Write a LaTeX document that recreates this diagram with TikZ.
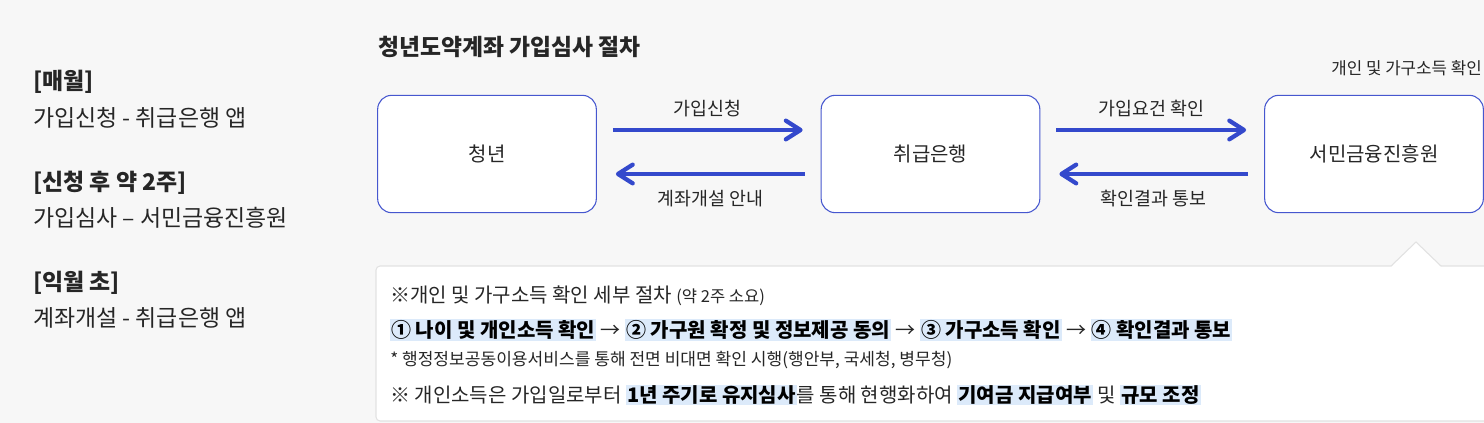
\documentclass[tikz,border=0pt]{standalone}
\usepackage{fontspec}
\setmainfont{Noto Sans CJK KR}
\usetikzlibrary{arrows.meta, positioning, calc}

\definecolor{pageGray}{HTML}{F7F7F7}
\definecolor{flowBlue}{HTML}{3449CC}
\definecolor{boxBlue}{HTML}{4657CF}
\definecolor{inkDark}{HTML}{262626}
\definecolor{panelLine}{HTML}{E2E2E2}
\definecolor{hlBlue}{HTML}{DCEAFA}

\newcommand{\hlmark}[1]{{\setlength{\fboxsep}{0.8pt}\colorbox{hlBlue}{\bfseries\color{black}#1}}}

\begin{document}
\begin{tikzpicture}[x=0.75pt, y=-0.75pt,
    stage/.style={
        rectangle, rounded corners=10.5pt, minimum width=164pt,
        minimum height=88pt, text=inkDark, font=\fontsize{15}{18}\selectfont,
        draw=boxBlue, line width=0.8pt, fill=white
    },
    flow/.style={-{Straight Barb[length=11pt, width=14pt, round]}, line width=3.2pt, flowBlue},
    flowtag/.style={inner sep=0pt, text=inkDark, font=\fontsize{13.8}{16}\selectfont},
    period/.style={anchor=west, inner sep=0pt, text=inkDark, font=\bfseries\fontsize{17.2}{20}\selectfont},
    channel/.style={anchor=west, inner sep=0pt, text=inkDark, font=\fontsize{17.2}{20}\selectfont},
    note/.style={anchor=west, inner sep=0pt, text=inkDark, font=\fontsize{15}{18}\selectfont}
]
    \fill[pageGray] (0,0) rectangle (1484,423);
    \useasboundingbox (0,0) rectangle (1484,423);

    % schedule on the left
    \node[period]  (monthly)        at (33,82)  {[매월]};
    \node[channel] (monthlyApp)     at (33,118) {가입신청 - 취급은행 앱};
    \node[period]  (afterTwo)       at (33,183) {[신청 후 약 2주]};
    \node[channel] (afterTwoReview) at (33,218) {가입심사 – 서민금융진흥원};
    \node[period]  (nextMonth)      at (33,283) {[익월 초]};
    \node[channel] (nextMonthApp)   at (33,318) {계좌개설 - 취급은행 앱};

    \node[anchor=west, inner sep=0pt, text=inkDark, font=\bfseries\fontsize{17.1}{20}\selectfont] (title) at (378,47) {청년도약계좌 가입심사 절차};

    \node[stage] (youth) at (487,154)   {청년};
    \node[stage] (bank)  at (930.5,154) {취급은행};
    \node[stage] (kinfa) at (1374,154)  {서민금융진흥원};

    \node[anchor=east, inner sep=0pt, text=inkDark, font=\fontsize{12.6}{15}\selectfont] (incomeTag) at (1482,68) {개인 및 가구소득 확인};

    \foreach \a/\b/\t/\n in {youth/bank/가입신청/tagApply, bank/kinfa/가입요건 확인/tagCheck} {
        \draw[flow] ($(\a.east)+(16,-24)$) -- ($(\b.west)+(-18,-24)$) node[flowtag, midway, above=8pt] (\n) {\t};
    }
    \foreach \a/\b/\t/\n in {bank/youth/계좌개설 안내/tagOpen, kinfa/bank/확인결과 통보/tagResult} {
        \draw[flow] ($(\a.west)+(-16,20)$) -- ($(\b.east)+(19,20)$) node[flowtag, midway, below=10.5pt] (\n) {\t};
    }

    % detail panel with notch
    \draw[panelLine, line width=0.8pt, fill=white, rounded corners=3pt] (376,266) rectangle (1510,421);
    \fill[white] (1391,267) -- (1416,242) -- (1441,267) -- cycle;
    \draw[panelLine, line width=0.8pt] (1391,266) -- (1416,242) -- (1441,266);

    \node[note] (detailHead) at (390,296) {※개인 및 가구소득 확인 세부 절차 {\fontsize{12.4}{15}\selectfont(약 2주 소요)}};
    \node[note] (detailSteps) at (390,330) {\hlmark{① 나이 및 개인소득 확인} → \hlmark{② 가구원 확정 및 정보제공 동의} → \hlmark{③ 가구소득 확인} → \hlmark{④ 확인결과 통보}};
    \node[note, font=\fontsize{12.8}{15}\selectfont] (detailFoot) at (390,360) {* 행정정보공동이용서비스를 통해 전면 비대면 확인 시행(행안부, 국세청, 병무청)};
    \node[note] (detailReview) at (390,395) {※ 개인소득은 가입일로부터 \hlmark{1년 주기로 유지심사}를 통해 현행화하여 \hlmark{기여금 지급여부} 및 \hlmark{규모 조정}};
\end{tikzpicture}
\end{document}
